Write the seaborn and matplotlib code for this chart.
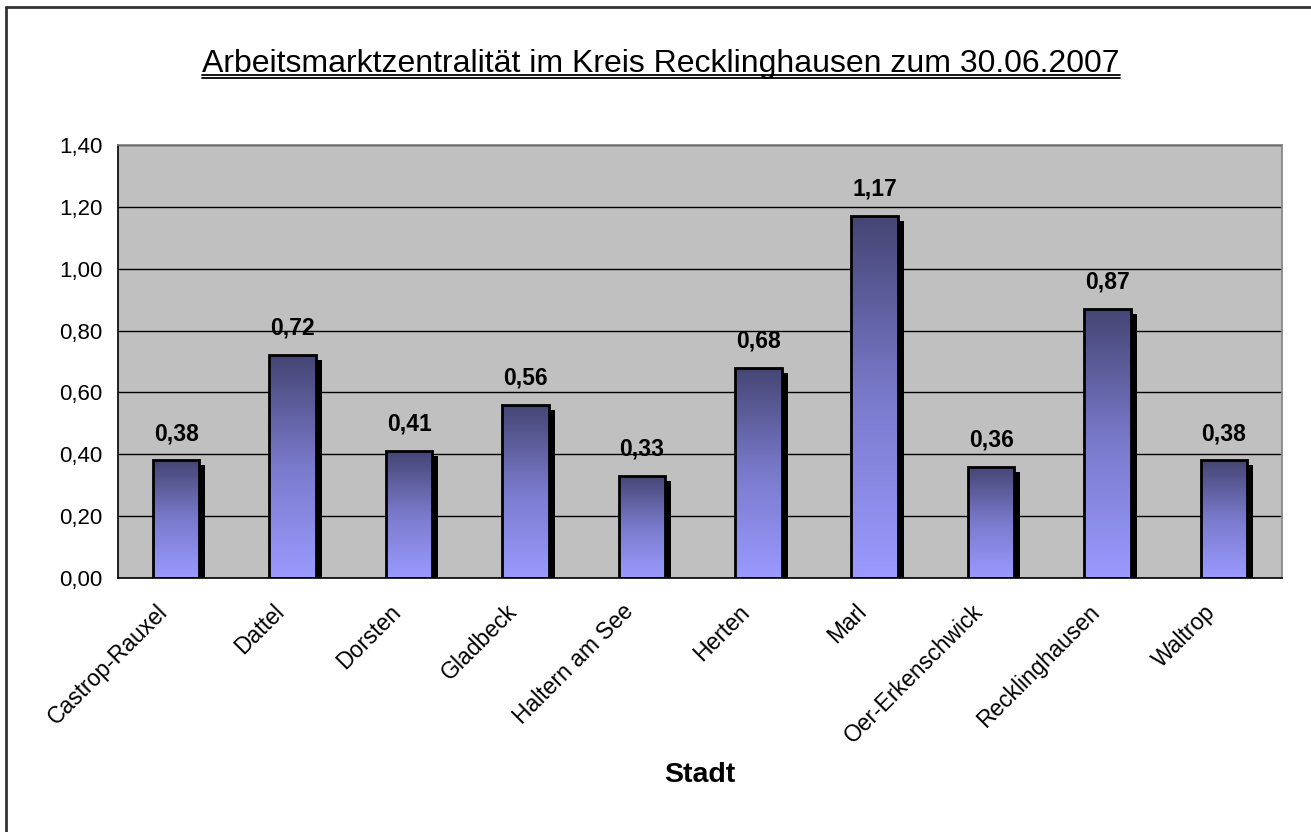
import numpy as np
import matplotlib
matplotlib.use('Agg')
import matplotlib.pyplot as plt
import matplotlib.transforms as mtransforms
from matplotlib.patches import Rectangle
from matplotlib.lines import Line2D
from matplotlib.colors import LinearSegmentedColormap
import seaborn as sns

# Data
staedte = ['Castrop-Rauxel', 'Dattel', 'Dorsten', 'Gladbeck', 'Haltern am See',
           'Herten', 'Marl', 'Oer-Erkenschwick', 'Recklinghausen', 'Waltrop']
zentralitaet = [0.38, 0.72, 0.41, 0.56, 0.33, 0.68, 1.17, 0.36, 0.87, 0.38]
y_ticks = [0.0, 0.2, 0.4, 0.6, 0.8, 1.0, 1.2, 1.4]

sns.set_style('white')
plt.rcParams['font.family'] = ['Liberation Sans', 'DejaVu Sans']
plt.rcParams['text.color'] = 'black'
plt.rcParams['xtick.labelcolor'] = 'black'
plt.rcParams['ytick.labelcolor'] = 'black'
plt.rcParams['axes.labelcolor'] = 'black'

fig = plt.figure(figsize=(13.11, 8.32), dpi=100)
ax = fig.add_axes([0.090, 0.3053, 0.888, 0.5204])
ax.set_facecolor('#c0c0c0')

sns.barplot(x=staedte, y=zentralitaet, width=0.4, color='#7070c0',
            edgecolor='black', linewidth=2, ax=ax, zorder=3)

cmap = LinearSegmentedColormap.from_list('bar', ['#9a9aff', '#7a7acc', '#454574'])
grad = np.linspace(0, 1, 256).reshape(-1, 1)
shadow_tr = mtransforms.offset_copy(ax.transData, fig=fig, x=6, y=-5, units='dots')

for p, v in zip(ax.patches, zentralitaet):
    x0, w, h = p.get_x(), p.get_width(), p.get_height()
    # shadow
    ax.add_patch(Rectangle((x0, 0), w, h, facecolor='black', edgecolor='none',
                           transform=shadow_tr, zorder=1))
    # gradient fill
    im = ax.imshow(grad, extent=[x0, x0 + w, 0, h], origin='lower', cmap=cmap,
                   aspect='auto', zorder=2)
    im.set_clip_path(p)
    p.set_facecolor('none')
    ax.text(x0 + w / 2, h + 0.05, f'{v:.2f}'.replace('.', ','), ha='center',
            va='bottom', fontsize=16.5, fontweight='bold')

ax.set_xlim(-0.5, len(staedte) - 0.5)
ax.set_ylim(0, 1.4)
ax.set_yticks(y_ticks)
ax.set_yticklabels([f'{t:.2f}'.replace('.', ',') for t in y_ticks], fontsize=16)
ax.yaxis.grid(True, color='black', linewidth=1)
ax.set_axisbelow(True)

ax.set_xticks(range(len(staedte)))
ax.set_xticks(np.arange(-0.5, len(staedte)), minor=True)
ax.tick_params(axis='x', which='major', length=0, pad=16)
ax.tick_params(axis='x', which='minor', length=7, width=1, color='black', direction='out')
ax.tick_params(axis='y', length=7, width=1, color='black', direction='out', pad=4)
ax.set_xticklabels(staedte, rotation=45, ha='right', rotation_mode='anchor', fontsize=16.5)
shift = mtransforms.ScaledTranslation(-20 / 100, 0, fig.dpi_scale_trans)
for lbl in ax.get_xticklabels():
    lbl.set_transform(lbl.get_transform() + shift)

for s in ['left', 'bottom']:
    ax.spines[s].set_color('black')
    ax.spines[s].set_linewidth(1.2)
for s in ['top', 'right']:
    ax.spines[s].set_color('#808080')
    ax.spines[s].set_linewidth(1.2)

ax.set_xlabel('Stadt', fontsize=20.5, fontweight='bold')
ax.xaxis.set_label_coords(0.5, -0.425)
ax.set_ylabel('')

# Title with double underline
ty = 1 - 72 / 832
title = fig.text(661 / 1311, ty, 'Arbeitsmarktzentralität im Kreis Recklinghausen zum 30.06.2007',
                 ha='center', va='baseline', fontsize=23)
fig.canvas.draw()
bb = title.get_window_extent().transformed(fig.transFigure.inverted())
for dy in (2.5, 6.0):
    fig.add_artist(Line2D([bb.x0, bb.x1], [ty - dy / 832] * 2, color='black',
                          linewidth=1.3, transform=fig.transFigure))

# outer chart border
bx, by = 6 / 1311, 1 - 7 / 832
fig.add_artist(Line2D([bx, bx], [0, by], color='#333333', linewidth=2, transform=fig.transFigure))
fig.add_artist(Line2D([bx, 1], [by, by], color='#333333', linewidth=2, transform=fig.transFigure))

plt.savefig('out.png', dpi=100)
